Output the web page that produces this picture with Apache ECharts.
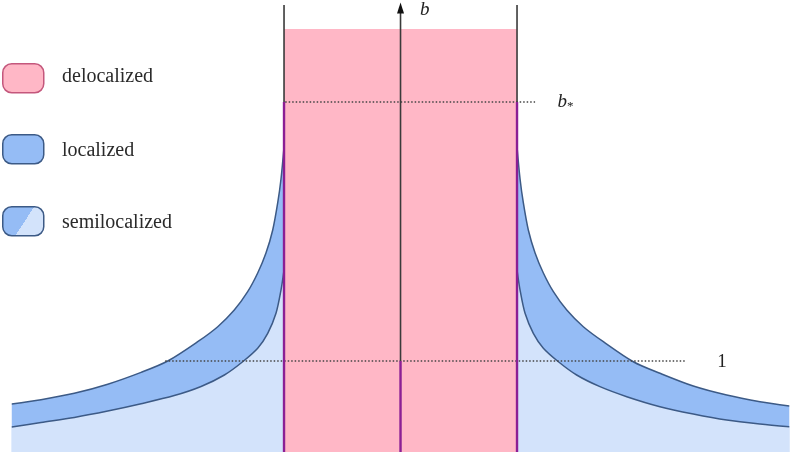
<!DOCTYPE html>
<html>
<head>
<meta charset="utf-8">
<script src="https://cdn.jsdelivr.net/npm/echarts@6/dist/echarts.min.js"></script>
<style>
html,body{margin:0;padding:0;background:#fff;}
#chart{width:800px;height:452px;}
</style>
</head>
<body>
<div id="chart"></div>
<script>
// ---- data ----
const legendNames = ['delocalized', 'localized', 'semilocalized'];

// delocalized band: |x| <= 1, up to its top
const delocX = [-1, 1];
const delocTop = 4.648;

// key levels on the b axis
const bStar = 3.846;
const bOne = 1.0;
const axisTop = 4.88;
const edgeTop = 4.912;

// left branch of the localized band
const leftUpperX = [-3.337, -3.086, -2.800, -2.513, -2.227, -1.998, -1.741, -1.569, -1.427, -1.312, -1.226, -1.155, -1.097, -1.054, -1.026, -1.000];
const leftUpperB = [0.527, 0.575, 0.645, 0.745, 0.875, 1.000, 1.212, 1.377, 1.560, 1.762, 1.967, 2.187, 2.440, 2.740, 3.000, 3.355];
const leftLowerX = [-3.337, -3.086, -2.800, -2.513, -2.227, -1.942, -1.712, -1.512, -1.355, -1.226, -1.140, -1.069, -1.026, -1.000];
const leftLowerB = [0.275, 0.325, 0.380, 0.450, 0.530, 0.620, 0.720, 0.846, 0.992, 1.140, 1.304, 1.524, 1.780, 2.000];

// right branch of the localized band
const rightUpperX = [1.000, 1.026, 1.054, 1.097, 1.155, 1.226, 1.312, 1.427, 1.569, 1.741, 1.998, 2.227, 2.513, 2.800, 3.086, 3.337];
const rightUpperB = [3.355, 3.000, 2.740, 2.440, 2.187, 1.967, 1.762, 1.560, 1.377, 1.212, 0.992, 0.865, 0.725, 0.626, 0.553, 0.505];
const rightLowerX = [1.000, 1.026, 1.069, 1.140, 1.226, 1.355, 1.512, 1.712, 1.942, 2.227, 2.513, 2.800, 3.086, 3.337];
const rightLowerB = [2.000, 1.780, 1.524, 1.304, 1.140, 0.992, 0.846, 0.718, 0.608, 0.498, 0.418, 0.352, 0.308, 0.278];

// dotted reference lines (x extents)
const bStarLineX = [-0.99, 1.155];
const oneLineX = [-2.02, 2.44];

// ---- styles ----
const PINK = '#ffb7c6';
const PINK_EDGE = '#c4577c';
const MED = '#95bcf5';
const LIGHT = '#d3e3fb';
const STROKE = '#3c5a86';
const PURPLE = '#8b1f94';
const DARK = '#3a3a3a';
const SERIF = '"Liberation Serif", "DejaVu Serif", serif';

function zip(xs, ys) { return xs.map((x, i) => [x, ys[i]]); }

function curve(xs, ys, fill) {
  return {
    type: 'line', data: zip(xs, ys), symbol: 'none', smooth: 0.3,
    lineStyle: { color: STROKE, width: 1.5 },
    areaStyle: { color: fill, opacity: 1 },
    silent: true, animation: false
  };
}
function seg(data, color, width, type) {
  return {
    type: 'line', data: data, symbol: 'none',
    lineStyle: { color: color, width: width, type: type || 'solid' },
    silent: true, animation: false
  };
}
const hiddenPoint = { symbol: 'circle', symbolSize: 1, itemStyle: { color: 'transparent', borderWidth: 0 } };

const chart = echarts.init(document.getElementById('chart'), null, { renderer: 'canvas' });

const series = [
  {
    type: 'line', data: delocX.map(x => [x, delocTop]), symbol: 'none',
    lineStyle: { width: 0 }, areaStyle: { color: PINK, opacity: 1 },
    silent: true, animation: false
  },
  curve(leftUpperX, leftUpperB, MED),
  curve(leftLowerX, leftLowerB, LIGHT),
  curve(rightUpperX, rightUpperB, MED),
  curve(rightLowerX, rightLowerB, LIGHT),
  // dotted lines with labels
  {
    type: 'line', symbol: 'none', silent: true, animation: false,
    lineStyle: { color: '#444', width: 1.3, type: [1.5, 2] },
    data: [
      { value: [bStarLineX[0], bStar] },
      Object.assign({ value: [bStarLineX[1], bStar], label: {
        show: true, position: 'right', distance: 22,
        formatter: '{i|b}{s|*}',
        rich: {
          i: { fontFamily: SERIF, fontStyle: 'italic', fontSize: 19, color: '#222' },
          s: { fontFamily: SERIF, fontSize: 13, color: '#222', padding: [10, 0, 0, 0] }
        }
      } }, hiddenPoint)
    ]
  },
  {
    type: 'line', symbol: 'none', silent: true, animation: false,
    lineStyle: { color: '#444', width: 1.3, type: [1.5, 2] },
    data: [
      { value: [oneLineX[0], bOne] },
      Object.assign({ value: [oneLineX[1], bOne], label: {
        show: true, position: 'right', distance: 32, formatter: '1',
        fontFamily: SERIF, fontSize: 19, color: '#222', offset: [0, 1]
      } }, hiddenPoint)
    ]
  },
  // edges of the delocalized region
  seg([[-1, bStar], [-1, edgeTop]], DARK, 1.6),
  seg([[1, bStar], [1, edgeTop]], DARK, 1.6),
  seg([[-1, 0], [-1, bStar]], PURPLE, 2.4),
  seg([[1, 0], [1, bStar]], PURPLE, 2.4),
  // central b axis
  seg([[0, 0], [0, bOne]], PURPLE, 2.4),
  {
    type: 'line', silent: true, animation: false,
    lineStyle: { color: DARK, width: 1.6 },
    data: [
      { value: [0, bOne], symbol: 'none' },
      { value: [0, axisTop], symbol: 'triangle', symbolSize: [7, 11],
        itemStyle: { color: '#111' },
        label: { show: true, position: 'right', distance: 16, formatter: 'b',
          fontFamily: SERIF, fontStyle: 'italic', fontSize: 19, color: '#222', offset: [0, 2] } }
    ]
  }
];

// legend drawn with graphic elements
const legendY = [63, 134, 206];
const legendTextY = [78, 152, 224];
const graphic = [];
const legendFills = [
  PINK,
  MED,
  { type: 'linear', x: 0.19, y: 0.19, x2: 0.88, y2: 0.81,
    colorStops: [ { offset: 0, color: MED }, { offset: 0.5, color: MED },
                  { offset: 0.5, color: LIGHT }, { offset: 1, color: LIGHT } ] }
];
const legendStrokes = [PINK_EDGE, STROKE, STROKE];
legendNames.forEach((name, i) => {
  graphic.push({
    type: 'rect', left: 2, top: legendY[i], silent: true,
    shape: { width: 41, height: 29, r: 9 },
    style: { fill: legendFills[i], stroke: legendStrokes[i], lineWidth: 1.5 }
  });
  graphic.push({
    type: 'text', left: 62, top: legendTextY[i] - 11, silent: true,
    style: { text: name, fontFamily: SERIF, fontSize: 20, fill: '#2a2a2a' }
  });
});

chart.setOption({
  animation: false,
  grid: { left: 0, right: 0, top: 0, bottom: 0 },
  xAxis: { type: 'value', min: -3.438, max: 3.429, show: false },
  yAxis: { type: 'value', min: 0, max: 4.967, show: false },
  series: series,
  graphic: graphic
});
</script>
</body>
</html>
